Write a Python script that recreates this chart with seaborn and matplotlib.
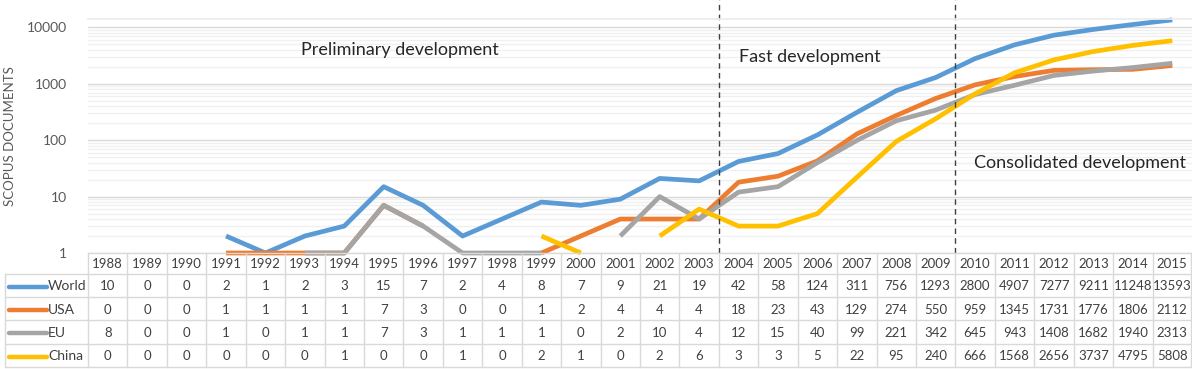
import matplotlib
matplotlib.use('Agg')
import matplotlib.pyplot as plt
import seaborn as sns
import pandas as pd
import numpy as np

years = list(range(1988, 2016))
world = [10, 0, 0, 2, 1, 2, 3, 15, 7, 2, 4, 8, 7, 9, 21, 19, 42, 58, 124, 311,
         756, 1293, 2800, 4907, 7277, 9211, 11248, 13593]
usa = [0, 0, 0, 1, 1, 1, 1, 7, 3, 0, 0, 1, 2, 4, 4, 4, 18, 23, 43, 129,
       274, 550, 959, 1345, 1731, 1776, 1806, 2112]
eu = [8, 0, 0, 1, 0, 1, 1, 7, 3, 1, 1, 1, 0, 2, 10, 4, 12, 15, 40, 99,
      221, 342, 645, 943, 1408, 1682, 1940, 2313]
china = [0, 0, 0, 0, 0, 0, 1, 0, 0, 1, 0, 2, 1, 0, 2, 6, 3, 3, 5, 22,
         95, 240, 666, 1568, 2656, 3737, 4795, 5808]

series_names = ['World', 'USA', 'EU', 'China']
series_values = [world, usa, eu, china]
colors = ['#5B9BD5', '#ED7D31', '#A5A5A5', '#FFC000']
phases = ['Preliminary development', 'Fast development', 'Consolidated development']

# long format, zeros break the line on the log scale (like excel)
rows = []
for name, vals in zip(series_names, series_values):
    seg = 0
    for i, v in enumerate(vals):
        if v == 0:
            seg += 1
            continue
        rows.append({'pos': i, 'value': v, 'series': name, 'seg': f'{name}_{seg}'})
df = pd.DataFrame(rows)

sns.set_theme(style='white')
plt.rcParams['font.family'] = ['Lato', 'DejaVu Sans']

W, H = 1192, 369
fig = plt.figure(figsize=(W / 100, H / 100), dpi=100)

# main chart area (pixel layout)
left, right, top, bottom = 88, 1192, 19, 253
ax = fig.add_axes([left / W, (H - bottom) / H, (right - left) / W, (bottom - top) / H])
ax.set_yscale('log')
ax.set_ylim(1, 10 ** ((bottom - top) / 56.4))
ax.set_xlim(-0.5, len(years) - 0.5)

ax.yaxis.grid(True, which='major', color='#d9d9d9', lw=1)
ax.yaxis.grid(True, which='minor', color='#f0f0f0', lw=1)
ax.set_axisbelow(True)
for s in ax.spines.values():
    s.set_visible(False)
ax.spines['top'].set_visible(True)
ax.spines['top'].set_color('#ececec')

sns.lineplot(data=df, x='pos', y='value', hue='series', units='seg', estimator=None,
             hue_order=series_names, palette=dict(zip(series_names, colors)),
             lw=3.4, legend=False, ax=ax, solid_joinstyle='round', solid_capstyle='butt')
for ln in ax.get_lines():
    ln.set_clip_on(False)

ax.set_xticks([])
ax.set_xlabel('')
ax.set_yticks([1, 10, 100, 1000, 10000])
ax.set_yticklabels(['1', '10', '100', '1000', '10000'])
ax.tick_params(axis='y', which='both', length=0, labelsize=10, labelcolor='#595959', pad=15)
ax.set_ylabel('SCOPUS DOCUMENTS', fontsize=9.5, color='#595959', labelpad=8)

# phase separators
for xv in [15.5, 21.5]:
    ax.axvline(xv, ymin=0, ymax=(bottom - 0) / (bottom - top), color='#404040',
               lw=1, ls=(0, (4, 3)), clip_on=False)

ax.text(7.41, 3980, phases[0], fontsize=13, color='#262626', ha='center', va='center')
ax.text(17.81, 2990, phases[1], fontsize=13, color='#262626', ha='center', va='center')
ax.text(24.66, 39.4, phases[2], fontsize=13, color='#262626', ha='center', va='center')

# data table below the chart
tab = fig.add_axes([0, 0, 1, 1], facecolor='none')
tab.set_xlim(0, W)
tab.set_ylim(H, 0)
tab.axis('off')

col_w = (right - left) / len(years)
row_edges = [253, 274, 297, 320, 344, 367]
grid_c = '#d9d9d9'
tc = '#404040'

# header
for i, y in enumerate(years):
    x0 = left + i * col_w
    tab.text(x0 + col_w / 2, (row_edges[0] + row_edges[1]) / 2 + 1, str(y),
             ha='center', va='center', fontsize=9.5, color=tc)
for r in range(len(series_names)):
    y0, y1 = row_edges[r + 1], row_edges[r + 2]
    yc = (y0 + y1) / 2 + 1
    tab.plot([9, 47], [yc, yc], color=colors[r], lw=3.2, solid_capstyle='round')
    tab.text(48, yc, series_names[r], ha='left', va='center', fontsize=10, color=tc)
    for i, v in enumerate(series_values[r]):
        x0 = left + i * col_w
        tab.text(x0 + col_w / 2, yc, str(v), ha='center', va='center', fontsize=9.5, color=tc)

# table grid lines
tab.plot([left, right - 1], [row_edges[0]] * 2, color=grid_c, lw=1)
for ry in row_edges[1:]:
    tab.plot([5, right - 1], [ry, ry], color=grid_c, lw=1)
tab.plot([5, 5], [row_edges[1], row_edges[-1]], color=grid_c, lw=1)
for i in range(len(years) + 1):
    xx = min(left + i * col_w, right - 1)
    tab.plot([xx, xx], [row_edges[0], row_edges[-1]], color=grid_c, lw=1)

fig.savefig('out.png', dpi=100)
